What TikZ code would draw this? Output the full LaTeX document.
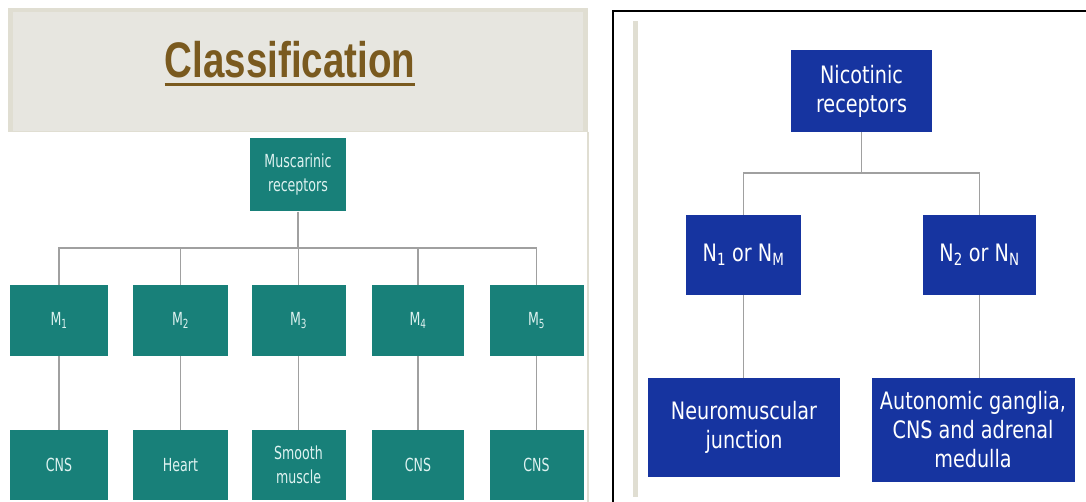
\documentclass[tikz,border=0pt]{standalone}
\usepackage{fontspec}
\newfontfamily\slidefont[FakeStretch=0.7]{DejaVu Sans}
\newfontfamily\nicfont[FakeStretch=0.8]{DejaVu Sans}
\newfontfamily\titlefont[FakeStretch=0.77]{Liberation Sans}
\definecolor{bandout}{RGB}{224,222,210}
\definecolor{bandin}{RGB}{231,230,224}
\definecolor{teal}{RGB}{24,128,121}
\definecolor{nblue}{RGB}{22,52,160}
\definecolor{titlebrown}{RGB}{122,90,31}
\definecolor{conngray}{RGB}{160,160,160}
\definecolor{mtext}{RGB}{222,242,240}
\tikzset{
  mbox/.style={rectangle, fill=teal, text=mtext, align=center, inner sep=0pt,
    font=\slidefont\fontsize{18}{24}\selectfont},
  nbox/.style={rectangle, fill=nblue, text=white, align=center, inner sep=0pt,
    font=\nicfont\fontsize{24}{29}\selectfont},
  conn/.style={draw=conngray, line width=1.3pt},
}
\begin{document}
\begin{tikzpicture}[x=1pt,y=-1pt]
\useasboundingbox (0,0) rectangle (1086,502);
\fill[white] (0,0) rectangle (1086,502);
% ---- left slide ----
\fill[bandout] (8,8) rectangle (588,132);
\fill[bandin] (13,12) rectangle (583,131);
\draw[bandout, line width=1.2pt] (588,132) -- (588,502);
\node[font=\titlefont\bfseries\fontsize{50}{60}\selectfont, text=titlebrown, inner sep=0pt, anchor=base] (title) at (290,78) {Classification};
\draw[titlebrown, line width=3pt] ([yshift=-7pt]title.base west) -- ([yshift=-7pt]title.base east);

\node[mbox, minimum width=96pt, minimum height=73pt] (mus) at (298,175) {Muscarinic\\receptors};

\node[mbox, minimum width=98pt, minimum height=71pt] (m1) at (59,320.5) {M\textsubscript{1}};
\node[mbox, minimum width=95pt, minimum height=71pt] (m2) at (180.5,320.5) {M\textsubscript{2}};
\node[mbox, minimum width=94pt, minimum height=71pt] (m3) at (298.5,320.5) {M\textsubscript{3}};
\node[mbox, minimum width=92pt, minimum height=71pt] (m4) at (418,320.5) {M\textsubscript{4}};
\node[mbox, minimum width=94pt, minimum height=71pt] (m5) at (536.5,320.5) {M\textsubscript{5}};

\node[mbox, minimum width=98pt, minimum height=70pt] (c1) at (59,465) {CNS};
\node[mbox, minimum width=95pt, minimum height=70pt] (c2) at (180.5,465) {Heart};
\node[mbox, minimum width=94pt, minimum height=70pt] (c3) at (298.5,465) {Smooth\\muscle};
\node[mbox, minimum width=92pt, minimum height=70pt] (c4) at (418,465) {CNS};
\node[mbox, minimum width=94pt, minimum height=70pt] (c5) at (536.5,465) {CNS};

\coordinate (hb) at (0,248);
\draw[conn] (mus.south) -- (mus.south |- hb);
\draw[conn] (m1.north) -- (m1.north |- hb) -- (m5.north |- hb) -- (m5.north);
\foreach \k in {2,3,4} { \draw[conn] (m\k.north) -- (m\k.north |- hb); }
\foreach \k in {1,...,5} { \draw[conn] (m\k.south) -- (c\k.north); }

% ---- right slide ----
\draw[black, line width=2pt] (1087,11) -- (613,11) -- (613,503);
\fill[bandout] (633,21) rectangle (638,497);

\node[nbox, minimum width=141pt, minimum height=82pt] (nic) at (861.5,91) {Nicotinic\\receptors};
\node[nbox, minimum width=115pt, minimum height=80pt] (n1) at (743.5,255) {N\textsubscript{1} or N\textsubscript{M}};
\node[nbox, minimum width=113pt, minimum height=80pt] (n2) at (979.5,255) {N\textsubscript{2} or N\textsubscript{N}};
\node[nbox, minimum width=192pt, minimum height=99pt] (nm) at (744,427.5) {Neuromuscular\\junction};
\node[nbox, minimum width=203pt, minimum height=104pt] (au) at (973,430) {Autonomic ganglia,\\CNS and adrenal\\medulla};

\coordinate (nb) at (0,173);
\draw[conn] (nic.south) -- (nic.south |- nb);
\draw[conn] (n1.north) -- (n1.north |- nb) -- (n2.north |- nb) -- (n2.north);
\draw[conn] (n1.south) -- (n1.south |- nm.north);
\draw[conn] (n2.south) -- (n2.south |- au.north);
\end{tikzpicture}
\end{document}
